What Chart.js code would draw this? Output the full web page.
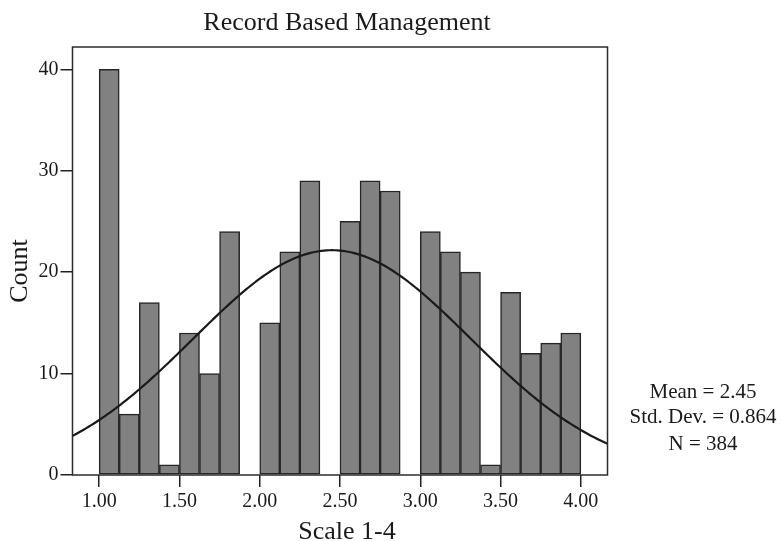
<!DOCTYPE html>
<html>
<head>
<meta charset="utf-8">
<script src="https://cdn.jsdelivr.net/npm/chart.js@4.4.1/dist/chart.umd.min.js"></script>
<style>
  html, body { margin: 0; padding: 0; background: #ffffff; }
  #wrap { width: 782px; height: 541px; }
</style>
</head>
<body>
<div id="wrap"><canvas id="hist" width="782" height="541"></canvas></div>
<script>
// Histogram of the "Record Based Management" scale (1-4), bins of 0.125
const BIN_LOWER = [1.000, 1.125, 1.250, 1.375, 1.500, 1.625, 1.750, 1.875,
                   2.000, 2.125, 2.250, 2.375, 2.500, 2.625, 2.750, 2.875,
                   3.000, 3.125, 3.250, 3.375, 3.500, 3.625, 3.750, 3.875];
const COUNTS    = [40, 6, 17, 1, 14, 10, 24, 0,
                   15, 22, 29, 0, 25, 29, 28, 0,
                   24, 22, 20, 1, 18, 12, 13, 14];
const BIN_WIDTH = 0.125;

// Summary statistics shown beside the plot
const MEAN = 2.45;
const STD_DEV = 0.864;
const N = 384;

// Axis ticks
const X_TICKS = [1.00, 1.50, 2.00, 2.50, 3.00, 3.50, 4.00];
const Y_TICKS = [0, 10, 20, 30, 40];
const X_MIN = 0.834, X_MAX = 4.166;
const Y_MAX = 42.2;

const SERIF = '"Liberation Serif", "Times New Roman", serif';

const barData = BIN_LOWER.map((lo, i) => ({ x: lo + BIN_WIDTH / 2, y: COUNTS[i] }));

// Normal curve scaled to counts per bin
const curveData = [];
const STEPS = 200;
for (let k = 0; k <= STEPS; k++) {
  const x = X_MIN + (X_MAX - X_MIN) * k / STEPS;
  const z = (x - MEAN) / STD_DEV;
  const y = N * BIN_WIDTH * Math.exp(-0.5 * z * z) / (STD_DEV * Math.sqrt(2 * Math.PI));
  curveData.push({ x, y });
}

const textPlugin = {
  id: 'frameAndText',
  afterDatasetsDraw(chart) {
    const { ctx, chartArea: a } = chart;
    ctx.save();
    ctx.strokeStyle = '#2b2b2b';
    ctx.lineWidth = 1.5;
    ctx.strokeRect(a.left, a.top, a.right - a.left, a.bottom - a.top);
    ctx.restore();
  },
  afterDraw(chart) {
    const ctx = chart.ctx;
    ctx.save();
    ctx.fillStyle = '#1a1a1a';
    ctx.textAlign = 'center';
    ctx.textBaseline = 'alphabetic';

    ctx.font = '26px ' + SERIF;
    ctx.fillText('Record Based Management', 347, 30);
    ctx.fillText('Scale 1-4', 347, 539);

    ctx.save();
    ctx.translate(27, 271);
    ctx.rotate(-Math.PI / 2);
    ctx.fillText('Count', 0, 0);
    ctx.restore();

    ctx.font = '21px ' + SERIF;
    ctx.fillText('Mean = ' + MEAN.toFixed(2), 703, 398);
    ctx.fillText('Std. Dev. = ' + STD_DEV.toFixed(3), 703, 423);
    ctx.fillText('N = ' + N, 703, 450);
    ctx.restore();
  }
};

new Chart(document.getElementById('hist'), {
  type: 'bar',
  data: {
    datasets: [
      {
        type: 'line',
        data: curveData,
        borderColor: '#1a1a1a',
        borderWidth: 2.2,
        pointRadius: 0,
        tension: 0,
        fill: false,
        order: 0
      },
      {
        type: 'bar',
        data: barData,
        backgroundColor: '#818181',
        borderColor: '#262626',
        borderWidth: 1.5,
        borderSkipped: false,
        barPercentage: 1.0,
        categoryPercentage: 1.0,
        order: 1
      }
    ]
  },
  options: {
    responsive: false,
    animation: false,
    events: [],
    layout: { padding: { top: 47, right: 174.5, left: 0, bottom: 0 } },
    plugins: {
      legend: { display: false },
      tooltip: { enabled: false },
      title: { display: false }
    },
    scales: {
      x: {
        type: 'linear',
        min: X_MIN,
        max: X_MAX,
        offset: false,
        afterBuildTicks: s => { s.ticks = X_TICKS.map(v => ({ value: v })); },
        afterFit: s => { s.height = 66; },
        border: { display: false },
        grid: { display: true, offset: false, drawOnChartArea: false, drawTicks: true, tickLength: 12,
                color: '#222222', lineWidth: 1.5 },
        ticks: {
          padding: 3,
          maxRotation: 0,
          autoSkip: false,
          color: '#1a1a1a',
          font: { family: SERIF, size: 20 },
          callback: v => Number(v).toFixed(2)
        }
      },
      y: {
        type: 'linear',
        min: 0,
        max: Y_MAX,
        afterBuildTicks: s => { s.ticks = Y_TICKS.map(v => ({ value: v })); },
        afterFit: s => { s.width = 72.5; },
        border: { display: false },
        grid: { display: true, drawOnChartArea: false, drawTicks: true, tickLength: 12,
                color: '#222222', lineWidth: 1.5 },
        ticks: {
          padding: 2,
          autoSkip: false,
          color: '#1a1a1a',
          font: { family: SERIF, size: 20 },
          callback: v => String(v)
        }
      }
    }
  },
  plugins: [textPlugin]
});
</script>
</body>
</html>
